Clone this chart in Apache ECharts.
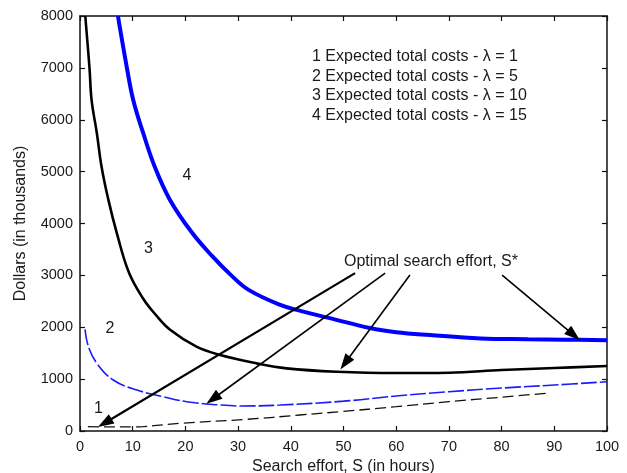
<!DOCTYPE html>
<html>
<head>
<meta charset="utf-8">
<script src="https://cdn.jsdelivr.net/npm/echarts@6/dist/echarts.min.js"></script>
<style>
  html, body { margin: 0; padding: 0; background: #fff; }
  #chart { width: 627px; height: 473px; }
</style>
</head>
<body>
<div id="chart"></div>
<script>
// search effort S (hours) and expected total cost (thousands $)
var s1 = [1.5, 5, 10, 12, 19, 31.6, 41.7, 49.3, 60, 70, 80, 88.5];
var cost1 = [85, 80, 80, 85, 148, 225, 308, 372, 468, 565, 652, 728];

var s2 = [0.95, 1.6, 3.2, 6.3, 10.8, 15.8, 20.2, 26.6, 30.4, 38, 50, 60, 70, 80, 90, 100];
var cost2 = [1960, 1625, 1304, 983, 790, 661, 565, 501, 482, 500, 575, 674, 757, 828, 886, 950];

var s3 = [1, 1.8, 2.2, 3.2, 4.1, 5.4, 7.0, 9.3, 12, 14.2, 17.1, 22.1, 26.6, 33.5, 39.2, 48.7, 60, 70, 80, 90, 100];
var cost3 = [8000, 7000, 6380, 5740, 5090, 4450, 3810, 3050, 2550, 2260, 1950, 1625, 1464, 1304, 1208, 1143, 1117, 1123, 1175, 1214, 1252];

var s4 = [7.2, 8.9, 10.1, 12, 14.2, 17.1, 21.2, 25, 28.8, 32, 38, 42, 47.4, 55, 60, 66.4, 76, 85, 92, 100];
var cost4 = [8000, 7000, 6380, 5740, 5090, 4450, 3830, 3380, 2990, 2720, 2430, 2310, 2175, 1985, 1905, 1850, 1785, 1770, 1760, 1750];

var legendLines = [
    '1 Expected total costs - \u03bb = 1',
    '2 Expected total costs - \u03bb = 5',
    '3 Expected total costs - \u03bb = 10',
    '4 Expected total costs - \u03bb = 15'
];

// curve number labels [S, cost, text]
var curveLabels = [[3.5, 437, '1'], [5.7, 1979, '2'], [13.0, 3520, '3'], [20.3, 4933, '4']];

// arrows "Optimal search effort, S*" : [from, to]
var arrows = [
    [[52.2, 3044], [4.7, 154]],
    [[57.9, 3044], [25.2, 617]],
    [[62.6, 3006], [50.3, 1310]],
    [[80.1, 3006], [93.7, 1850]]
];

function pairs(xs, ys) {
    return xs.map(function (x, i) { return [x, ys[i]]; });
}

var font = 'Liberation Sans, Arial, sans-serif';
var txt = '#1a1a1a';

var axisBase = {
    type: 'value',
    axisLine: { show: true, onZero: false, lineStyle: { color: '#111', width: 1.5 } },
    axisTick: { show: true, inside: true, length: 5, lineStyle: { color: '#111', width: 1.2 } },
    splitLine: { show: false }
};

var chart = echarts.init(document.getElementById('chart'));

var option = {
    backgroundColor: '#fff',
    animation: false,
    grid: { left: 80, right: 20, top: 16, bottom: 42, outerBoundsMode: 'none' },
    xAxis: [
        Object.assign({}, axisBase, {
            min: 0, max: 100, interval: 10, position: 'bottom',
            name: 'Search effort, S (in hours)', nameLocation: 'middle', nameGap: 27,
            nameTextStyle: { fontFamily: font, fontSize: 16, color: txt },
            axisLabel: { fontFamily: font, fontSize: 14.5, color: txt, margin: 8 }
        }),
        Object.assign({}, axisBase, {
            min: 0, max: 100, interval: 10, position: 'top',
            axisLabel: { show: false }
        })
    ],
    yAxis: [
        Object.assign({}, axisBase, {
            min: 0, max: 8000, interval: 1000, position: 'left',
            name: 'Dollars (in thousands)', nameLocation: 'middle', nameGap: 51,
            nameTextStyle: { fontFamily: font, fontSize: 16, color: txt },
            axisLabel: { fontFamily: font, fontSize: 14.5, color: txt, margin: 7,
                formatter: function (v) { return String(v); } }
        }),
        Object.assign({}, axisBase, {
            min: 0, max: 8000, interval: 1000, position: 'right',
            axisLabel: { show: false }
        })
    ],
    series: [
        {
            name: 'lambda 1', type: 'line', data: pairs(s1, cost1),
            smooth: 0.4, showSymbol: false,
            lineStyle: { color: '#111', width: 1.3, type: [11, 5] }
        },
        {
            name: 'lambda 5', type: 'line', data: pairs(s2, cost2),
            smooth: 0.4, showSymbol: false,
            lineStyle: { color: '#1a1aff', width: 1.6, type: [16, 3] }
        },
        {
            name: 'lambda 10', type: 'line', data: pairs(s3, cost3),
            smooth: 0.4, showSymbol: false,
            lineStyle: { color: '#000', width: 2.6 }
        },
        {
            name: 'lambda 15', type: 'line', data: pairs(s4, cost4),
            smooth: 0.4, showSymbol: false,
            lineStyle: { color: '#0000ff', width: 4 }
        },
        {
            // annotations: curve numbers, arrows and caption
            name: 'notes', type: 'scatter', data: [], silent: true,
            markPoint: {
                symbol: 'circle', symbolSize: 0,
                label: { show: true, position: 'inside', fontFamily: font, fontSize: 16, color: txt },
                data: curveLabels.map(function (c) {
                    return { coord: [c[0], c[1]], value: c[2], label: { formatter: c[2] } };
                }).concat([{
                    coord: [66.6, 3262], value: 0,
                    label: { formatter: 'Optimal search effort, S*', fontSize: 16 }
                }])
            },
            markLine: {
                silent: true,
                symbol: ['none', 'triangle'],
                symbolSize: [11, 16],
                label: { show: false },
                lineStyle: { color: '#000', width: 1.8, type: 'solid' },
                data: arrows.map(function (a, i) {
                    return [
                        { coord: a[0] },
                        { coord: a[1], lineStyle: { width: i === 0 ? 2.2 : 1.6 } }
                    ];
                })
            }
        }
    ],
    graphic: legendLines.map(function (t, i) {
        return {
            type: 'text', left: 312, top: 49 + i * 19.5,
            style: { text: t, fontFamily: font, fontSize: 16, fill: txt }
        };
    })
};

chart.setOption(option);
</script>
</body>
</html>
